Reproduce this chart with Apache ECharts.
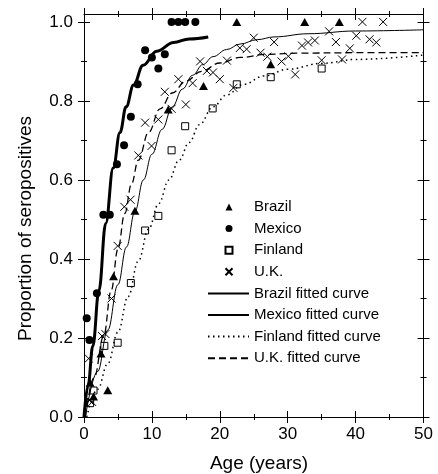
<!DOCTYPE html>
<html><head><meta charset="utf-8">
<script src="https://cdn.jsdelivr.net/npm/echarts@6/dist/echarts.min.js"></script>
<style>html,body{margin:0;padding:0;background:#fff}#c{width:438px;height:474px}</style>
</head><body><div id="c"></div>
<script>
// ---- data ----
const xMajorTicks = [0, 10, 20, 30, 40, 50];
const xMinorTicks = [5, 15, 25, 35, 45];
const yMajorTicks = [0, 0.2, 0.4, 0.6, 0.8, 1.0];
const yMinorTicks = [0.1, 0.3, 0.5, 0.7, 0.9];

const brazilObs = [[0.9,0.087],[1.4,0.052],[2.5,0.161],[3.5,0.068],[4.35,0.356],[7.5,0.522],[12.4,0.778],[17.6,0.838],[22.5,1.0],[27.5,0.893],[32.5,1.0],[37.6,1.0]];
const mexicoObs = [[0.4,0.25],[0.8,0.195],[1.9,0.313],[2.85,0.512],[3.8,0.512],[4.85,0.64],[5.9,0.688],[6.9,0.76],[7.9,0.842],[9.0,0.928],[10.0,0.91],[10.95,0.882],[11.9,0.918],[12.9,1.0],[13.9,1.0],[14.9,1.0],[16.4,1.0]];
const finlandObs = [[0.9,0.035],[1.4,0.067],[3.0,0.18],[4.96,0.188],[6.9,0.339],[9.0,0.472],[10.95,0.509],[12.9,0.675],[14.9,0.736],[18.95,0.781],[22.5,0.842],[27.5,0.86],[35.0,0.882]];
const ukObs = [[0.7,0.148],[0.8,0.042],[1.2,0.038],[2.65,0.205],[3.15,0.21],[4.05,0.3],[4.96,0.433],[5.94,0.532],[6.85,0.55],[8.0,0.662],[9.0,0.745],[9.95,0.686],[10.95,0.753],[11.9,0.823],[12.9,0.78],[13.9,0.855],[15.0,0.791],[16.0,0.845],[17.1,0.9],[18.1,0.876],[19.0,0.872],[20.0,0.855],[21.05,0.902],[22.0,0.833],[22.95,0.934],[23.95,0.931],[25.0,0.96],[26.0,0.922],[27.0,0.912],[28.0,0.949],[29.1,0.9],[30.1,0.913],[31.1,0.867],[32.1,0.94],[33.0,0.948],[34.0,0.953],[35.0,0.903],[36.1,0.976],[37.1,0.949],[38.0,0.905],[39.15,0.933],[40.1,0.965],[41.0,1.0],[42.05,0.956],[43.05,0.948],[44.05,1.0]];

const brazilFit = [[0.2,0],[2,0.115],[3.5,0.22],[5,0.335],[6.25,0.43],[7.5,0.52],[8.75,0.6],[10,0.665],[11.5,0.728],[13,0.785],[14.5,0.83],[16,0.865],[17.5,0.892],[19,0.912],[21,0.93],[23,0.944],[25.5,0.955],[28,0.962],[33,0.97],[40,0.977],[50,0.98]];
const mexicoFit = [[0,0],[0.6,0.08],[1.3,0.18],[2.2,0.32],[3.2,0.49],[4.3,0.63],[5.3,0.72],[6.2,0.785],[7.3,0.84],[8.7,0.89],[10.7,0.926],[13.2,0.948],[15.5,0.957],[18.3,0.962]];
const finlandFit = [[0.4,0],[2,0.07],[3.5,0.135],[5,0.215],[6.5,0.305],[8,0.395],[9.5,0.475],[11,0.54],[12.5,0.6],[14,0.65],[15.5,0.695],[17,0.74],[19,0.785],[21,0.815],[23.5,0.842],[26.5,0.863],[30,0.88],[35,0.895],[40,0.905],[50,0.916]];
const ukFit = [[0.2,0],[1.5,0.1],[2.9,0.205],[4,0.32],[5,0.425],[6,0.515],[7,0.59],[8,0.65],[9.5,0.72],[11.2,0.78],[13,0.82],[15,0.85],[17.3,0.875],[20,0.896],[23,0.91],[27,0.918],[32,0.921],[40,0.922],[50,0.922]];

const markerNames = ['Brazil','Mexico','Finland','U.K.'];
const curveNames = ['Brazil fitted curve','Mexico fitted curve','Finland fitted curve','U.K. fitted curve'];
const xTitle = 'Age (years)';
const yTitle = 'Proportion of seropositives';

// ---- chart ----
const FONT = '"Liberation Sans", Arial, Helvetica, sans-serif';
const BLACK = '#000';
const CLEAR = 'rgba(0,0,0,0)';

function axisBase(kind, pos, offset) {
  return {
    type: 'value', gridIndex: 0, position: pos, offset: offset,
    min: 0, max: kind === 'x' ? 50 : 1.02,
    axisLine: {show: false, onZero: false, lineStyle: {color: BLACK, width: 1}},
    axisTick: {show: false},
    axisLabel: {show: false},
    splitLine: {show: false},
    silent: true
  };
}
function lineAxis(kind, pos) {
  const a = axisBase(kind, pos, 0);
  a.axisLine.show = true;
  return a;
}
function tickAxis(kind, pos, offset, len, vals) {
  const a = axisBase(kind, pos, offset);
  a.axisTick = {show: true, inside: true, length: len, customValues: vals, lineStyle: {color: BLACK, width: 1}};
  return a;
}

const xLabelAxis = lineAxis('x', 'bottom');
xLabelAxis.axisLabel = {show: true, customValues: xMajorTicks, fontSize: 17, fontFamily: FONT, color: BLACK, margin: 9,
  formatter: v => String(Math.round(v))};
const yLabelAxis = lineAxis('y', 'left');
yLabelAxis.axisLabel = {show: true, customValues: yMajorTicks, fontSize: 17, fontFamily: FONT, color: BLACK, margin: 11,
  formatter: v => v.toFixed(1)};

function scatterSeries(name, data, symbol, size, itemStyle) {
  return {name, type: 'scatter', data, symbol, symbolSize: size, symbolKeepAspect: true,
    itemStyle: Object.assign({opacity: 1}, itemStyle), emphasis: {disabled: true}, z: 5};
}
function curveSeries(name, data, lineStyle) {
  return {name, type: 'line', data, symbol: 'none', smooth: 0.4, smoothMonotone: 'x',
    lineStyle: Object.assign({color: BLACK}, lineStyle), itemStyle: {color: CLEAR, borderWidth: 0},
    emphasis: {disabled: true}, z: 3};
}

const ROW = 21.6;
const option = {
  animation: false,
  backgroundColor: '#fff',
  grid: {left: 84, right: 14.5, top: 14, bottom: 57, containLabel: false},
  xAxis: [
    xLabelAxis,
    tickAxis('x', 'bottom', 6, 12, xMajorTicks),
    tickAxis('x', 'bottom', 3, 6, xMinorTicks),
    lineAxis('x', 'top'),
    tickAxis('x', 'top', 6, 12, xMajorTicks),
    tickAxis('x', 'top', 3, 6, xMinorTicks)
  ],
  yAxis: [
    yLabelAxis,
    tickAxis('y', 'left', 6, 12, yMajorTicks),
    tickAxis('y', 'left', 3, 6, yMinorTicks),
    lineAxis('y', 'right'),
    tickAxis('y', 'right', 6, 12, yMajorTicks),
    tickAxis('y', 'right', 3, 6, yMinorTicks)
  ],
  legend: [
    {
      orient: 'vertical', left: 224.5, top: 199, padding: 0,
      itemWidth: 7, itemHeight: 7, itemGap: ROW - 16,
      selectedMode: false,
      textStyle: {fontSize: 15, fontFamily: FONT, color: BLACK, lineHeight: 16, padding: [0, 0, 0, 16.5]},
      data: markerNames
    },
    {
      orient: 'vertical', left: 207, top: 199 + 4 * ROW, padding: 0,
      itemWidth: 41, itemHeight: 7, itemGap: ROW - 16,
      selectedMode: false,
      textStyle: {fontSize: 15, fontFamily: FONT, color: BLACK, lineHeight: 16},
      data: curveNames
    }
  ],
  graphic: [
    {type: 'text', x: 259, y: 464, silent: true,
     style: {text: xTitle, fontSize: 19, fontFamily: FONT, fill: BLACK, align: 'center', verticalAlign: 'middle'}},
    {type: 'text', x: 26, y: 228.5, rotation: Math.PI / 2, silent: true,
     style: {text: yTitle, fontSize: 19, fontFamily: FONT, fill: BLACK, align: 'center', verticalAlign: 'middle'}}
  ],
  series: [
    scatterSeries(markerNames[0], brazilObs, 'triangle', [9, 8], {color: BLACK}),
    scatterSeries(markerNames[1], mexicoObs, 'circle', 8, {color: BLACK}),
    scatterSeries(markerNames[2], finlandObs, 'rect', 7, {color: CLEAR, borderColor: BLACK, borderWidth: 1}),
    scatterSeries(markerNames[3], ukObs, 'path://M0,0L10,10M0,10L10,0', 8, {color: CLEAR, borderColor: BLACK, borderWidth: 1}),
    curveSeries(curveNames[0], brazilFit, {width: 1}),
    curveSeries(curveNames[1], mexicoFit, {width: 3}),
    curveSeries(curveNames[2], finlandFit, {width: 1.5, type: [1.5, 3.5]}),
    curveSeries(curveNames[3], ukFit, {width: 1.3, type: [7, 4]})
  ]
};

const chart = echarts.init(document.getElementById('c'), null, {renderer: 'canvas'});
chart.setOption(option);
</script>
</body></html>
